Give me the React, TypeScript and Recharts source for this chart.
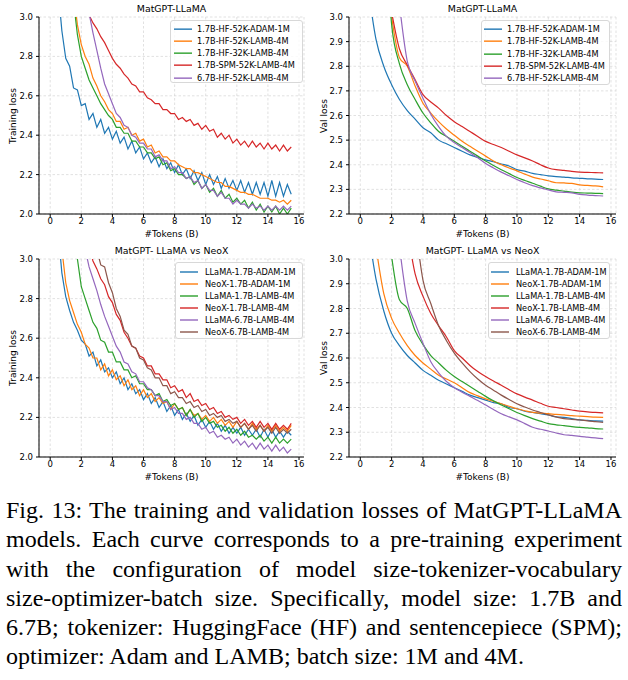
import { CartesianGrid, Line, LineChart, XAxis, YAxis } from "recharts"

// x positions of the logged points (billions of tokens)
const TRAIN_X = Array.from({ length: 61 }, (_, i) => 0.5 + i * 0.25)
const VAL_X = Array.from({ length: 31 }, (_, i) => 0.5 + i * 0.5)

const X_TICKS = [0, 2, 4, 6, 8, 10, 12, 14, 16]
const TRAIN_Y_TICKS = [2.0, 2.2, 2.4, 2.6, 2.8, 3.0]
const VAL_Y_TICKS = [2.2, 2.3, 2.4, 2.5, 2.6, 2.7, 2.8, 2.9, 3.0]

const LLAMA_NAMES = [
  "1.7B-HF-52K-ADAM-1M",
  "1.7B-HF-52K-LAMB-4M",
  "1.7B-HF-32K-LAMB-4M",
  "1.7B-SPM-52K-LAMB-4M",
  "6.7B-HF-52K-LAMB-4M",
]
const NEOX_NAMES = [
  "LLaMA-1.7B-ADAM-1M",
  "NeoX-1.7B-ADAM-1M",
  "LLaMA-1.7B-LAMB-4M",
  "NeoX-1.7B-LAMB-4M",
  "LLaMA-6.7B-LAMB-4M",
  "NeoX-6.7B-LAMB-4M",
]

const COLORS = ["#1f77b4", "#ff7f0e", "#2ca02c", "#d62728", "#9467bd", "#8c564b"]

// ---- MatGPT-LLaMA, training loss ----
const tlAdam1M = [
  3.15, 2.93,
  2.79, 2.75, 2.64, 2.63,
  2.55, 2.56, 2.48, 2.51,
  2.44, 2.48, 2.41, 2.44,
  2.38, 2.42, 2.36, 2.39,
  2.33, 2.37, 2.31, 2.34,
  2.28, 2.31, 2.26, 2.29,
  2.24, 2.28, 2.23, 2.26,
  2.21, 2.25, 2.2, 2.23,
  2.18, 2.22, 2.17, 2.21,
  2.15, 2.2, 2.15, 2.19,
  2.13, 2.18, 2.13, 2.17,
  2.12, 2.17, 2.11, 2.16,
  2.1, 2.16, 2.1, 2.16,
  2.09, 2.17, 2.09, 2.16,
  2.09, 2.15, 2.1,
]
const tlHf52Lamb = [
  null, null,
  null, null, 3.12, 2.96,
  2.86, 2.8, 2.76, 2.69,
  2.65, 2.6, 2.57, 2.53,
  2.51, 2.47, 2.47, 2.43,
  2.44, 2.4, 2.41, 2.37,
  2.38, 2.34, 2.35, 2.31,
  2.32, 2.29, 2.29, 2.27,
  2.27, 2.25, 2.24, 2.23,
  2.23, 2.21, 2.21, 2.2,
  2.19, 2.18, 2.17, 2.16,
  2.16, 2.14, 2.14, 2.13,
  2.12, 2.11, 2.11, 2.1,
  2.1, 2.09, 2.08, 2.08,
  2.08, 2.07, 2.07, 2.06,
  2.07, 2.05, 2.07,
]
const tlHf32Lamb = [
  null, null,
  null, null, 3.08, 2.91,
  2.8, 2.74, 2.68, 2.64,
  2.6, 2.56, 2.53, 2.5,
  2.48, 2.44, 2.44, 2.41,
  2.41, 2.37, 2.37, 2.34,
  2.34, 2.31, 2.31, 2.28,
  2.29, 2.25, 2.26, 2.22,
  2.23, 2.2, 2.2, 2.18,
  2.19, 2.15, 2.17, 2.13,
  2.15, 2.11, 2.13, 2.09,
  2.12, 2.08, 2.1, 2.06,
  2.08, 2.05, 2.07, 2.03,
  2.06, 2.02, 2.05, 2.01,
  2.04, 2.01, 2.04, 2.0,
  2.03, 2.0, 2.03,
]
const tlSpm52Lamb = [
  null, null,
  null, null, null, null,
  null, null, 3.01, 2.97,
  2.94, 2.9, 2.87, 2.83,
  2.79, 2.76, 2.74, 2.71,
  2.69, 2.66, 2.65, 2.62,
  2.62, 2.59, 2.58, 2.56,
  2.56, 2.53, 2.53, 2.51,
  2.51, 2.48, 2.49, 2.47,
  2.48, 2.45, 2.46, 2.43,
  2.45, 2.42, 2.43, 2.39,
  2.41, 2.38, 2.4, 2.36,
  2.38, 2.35, 2.37, 2.34,
  2.37, 2.34, 2.36, 2.33,
  2.36, 2.33, 2.35, 2.32,
  2.35, 2.32, 2.34,
]
const tl67bLamb = [
  null, null,
  null, null, null, null,
  null, null, 3.02, 2.92,
  2.83, 2.74, 2.66, 2.61,
  2.56, 2.51, 2.49, 2.45,
  2.44, 2.4, 2.39, 2.36,
  2.36, 2.33, 2.33, 2.29,
  2.3, 2.27, 2.27, 2.23,
  2.24, 2.21, 2.21, 2.18,
  2.19, 2.16, 2.17, 2.13,
  2.15, 2.12, 2.12, 2.09,
  2.11, 2.08, 2.08, 2.05,
  2.07, 2.05, 2.05, 2.03,
  2.05, 2.03, 2.04, 2.02,
  2.04, 2.02, 2.04, 2.02,
  2.04, 2.02, 2.04,
]

// ---- MatGPT-LLaMA, validation loss ----
const vlAdam1M = [
  3.12,
  2.91, 2.8, 2.725, 2.665, 2.62, 2.585, 2.55, 2.53, 2.5, 2.485,
  2.47, 2.455, 2.44, 2.43, 2.42, 2.412, 2.403, 2.395, 2.38, 2.374,
  2.365, 2.36, 2.355, 2.352, 2.35, 2.347, 2.345, 2.343, 2.342, 2.34,
]
const vlHf52Lamb = [
  null,
  null, null, 3.0, 2.835, 2.8, 2.72, 2.65, 2.61, 2.575, 2.545,
  2.52, 2.495, 2.475, 2.455, 2.435, 2.415, 2.4, 2.387, 2.375, 2.362,
  2.35, 2.342, 2.335, 2.327, 2.326, 2.324, 2.318, 2.316, 2.314, 2.31,
]
const vlHf32Lamb = [
  null,
  null, 3.5, 2.97, 2.81, 2.725, 2.665, 2.61, 2.57, 2.535, 2.515,
  2.495, 2.475, 2.455, 2.435, 2.415, 2.397, 2.38, 2.364, 2.348, 2.336,
  2.325, 2.313, 2.302, 2.297, 2.293, 2.289, 2.286, 2.285, 2.284, 2.283,
]
const vlSpm52Lamb = [
  null,
  null, null, 3.02, 2.87, 2.805, 2.745, 2.685, 2.655, 2.63, 2.6,
  2.575, 2.555, 2.535, 2.515, 2.495, 2.482, 2.47, 2.455, 2.44, 2.428,
  2.415, 2.4, 2.387, 2.38, 2.377, 2.373, 2.37, 2.369, 2.368, 2.367,
]
const vl67bLamb = [
  null,
  null, null, null, 3.05, 2.82, 2.74, 2.67, 2.605, 2.555, 2.515,
  2.49, 2.47, 2.45, 2.428, 2.405, 2.387, 2.37, 2.355, 2.34, 2.327,
  2.315, 2.306, 2.298, 2.29, 2.288, 2.286, 2.28, 2.277, 2.275, 2.273,
]

// ---- LLaMA vs NeoX, training loss ----
const tnLlama17Adam = [
  3.15, 2.93,
  2.81, 2.74, 2.68, 2.64,
  2.59, 2.57, 2.51, 2.53,
  2.46, 2.49, 2.43, 2.45,
  2.4, 2.43, 2.37, 2.4,
  2.34, 2.37, 2.32, 2.34,
  2.29, 2.32, 2.27, 2.3,
  2.25, 2.28, 2.23, 2.26,
  2.21, 2.24, 2.19, 2.22,
  2.18, 2.21, 2.16, 2.19,
  2.15, 2.18, 2.14, 2.17,
  2.13, 2.16, 2.12, 2.15,
  2.12, 2.15, 2.11, 2.14,
  2.11, 2.14, 2.1, 2.14,
  2.1, 2.14, 2.1, 2.13,
  2.1, 2.13, 2.11,
]
const tnNeox17Adam = [
  null, 3.05,
  2.88, 2.79, 2.73, 2.67,
  2.63, 2.57, 2.55, 2.5,
  2.5, 2.44, 2.47, 2.41,
  2.44, 2.39, 2.41, 2.36,
  2.39, 2.34, 2.36, 2.31,
  2.34, 2.3, 2.32, 2.28,
  2.3, 2.27, 2.28, 2.24,
  2.27, 2.24, 2.25, 2.21,
  2.24, 2.21, 2.22, 2.19,
  2.21, 2.18, 2.2, 2.17,
  2.19, 2.16, 2.18, 2.15,
  2.18, 2.15, 2.17, 2.14,
  2.17, 2.14, 2.16, 2.13,
  2.16, 2.13, 2.16, 2.13,
  2.15, 2.13, 2.16,
]
const tnLlama17Lamb = [
  null, null,
  null, null, null, 3.0,
  2.86, 2.8, 2.74, 2.68,
  2.65, 2.59, 2.58, 2.53,
  2.53, 2.48, 2.48, 2.44,
  2.44, 2.4, 2.41, 2.37,
  2.37, 2.34, 2.34, 2.31,
  2.32, 2.28, 2.29, 2.26,
  2.27, 2.24, 2.25, 2.21,
  2.24, 2.2, 2.22, 2.18,
  2.2, 2.17, 2.18, 2.15,
  2.16, 2.13, 2.15, 2.12,
  2.14, 2.11, 2.13, 2.1,
  2.11, 2.09, 2.11, 2.08,
  2.1, 2.07, 2.1, 2.07,
  2.09, 2.07, 2.09,
]
const tnNeox17Lamb = [
  null, null,
  null, null, null, null,
  null, null, 3.06, 2.99,
  2.95, 2.9, 2.87, 2.81,
  2.78, 2.72, 2.69, 2.63,
  2.6, 2.56, 2.55, 2.51,
  2.5, 2.46, 2.46, 2.42,
  2.42, 2.39, 2.39, 2.35,
  2.36, 2.33, 2.34, 2.3,
  2.32, 2.28, 2.29, 2.26,
  2.27, 2.24, 2.25, 2.22,
  2.23, 2.2, 2.21, 2.19,
  2.2, 2.17, 2.19, 2.16,
  2.18, 2.15, 2.18, 2.15,
  2.17, 2.14, 2.17, 2.14,
  2.16, 2.14, 2.17,
]
const tnLlama67Lamb = [
  null, null,
  null, null, null, null,
  null, 3.05, 2.96, 2.9,
  2.84, 2.77, 2.71, 2.66,
  2.61, 2.56, 2.53, 2.48,
  2.47, 2.43, 2.42, 2.38,
  2.38, 2.35, 2.34, 2.31,
  2.31, 2.28, 2.28, 2.24,
  2.25, 2.22, 2.22, 2.19,
  2.2, 2.17, 2.17, 2.14,
  2.15, 2.12, 2.13, 2.1,
  2.11, 2.09, 2.1, 2.07,
  2.09, 2.06, 2.08, 2.05,
  2.07, 2.04, 2.07, 2.04,
  2.06, 2.03, 2.06, 2.03,
  2.05, 2.02, 2.04,
]
const tnNeox67Lamb = [
  null, null,
  null, null, null, null,
  null, null, null, null,
  3.05, 2.97, 2.96, 2.88,
  2.83, 2.75, 2.71, 2.64,
  2.62, 2.56, 2.55, 2.5,
  2.49, 2.45, 2.44, 2.4,
  2.4, 2.36, 2.36, 2.32,
  2.33, 2.3, 2.3, 2.27,
  2.28, 2.25, 2.26, 2.23,
  2.24, 2.21, 2.22, 2.2,
  2.21, 2.18, 2.19, 2.17,
  2.18, 2.15, 2.17, 2.14,
  2.16, 2.13, 2.16, 2.13,
  2.15, 2.12, 2.15, 2.12,
  2.14, 2.12, 2.14,
]

// ---- LLaMA vs NeoX, validation loss ----
const vnLlama17Adam = [
  3.12,
  2.92, 2.79, 2.7, 2.65, 2.61, 2.58, 2.55, 2.53, 2.51, 2.495,
  2.48, 2.465, 2.45, 2.44, 2.43, 2.42, 2.415, 2.4, 2.395, 2.385,
  2.38, 2.375, 2.37, 2.362, 2.36, 2.355, 2.35, 2.348, 2.346, 2.345,
]
const vnNeox17Adam = [
  null,
  3.05, 2.86, 2.76, 2.7, 2.65, 2.61, 2.58, 2.555, 2.53, 2.515,
  2.5, 2.48, 2.46, 2.447, 2.435, 2.425, 2.415, 2.405, 2.395, 2.387,
  2.38, 2.377, 2.375, 2.372, 2.37, 2.367, 2.365, 2.363, 2.361, 2.36,
]
const vnLlama17Lamb = [
  null,
  null, null, 3.01, 2.835, 2.8, 2.71, 2.655, 2.61, 2.58, 2.55,
  2.525, 2.505, 2.485, 2.465, 2.445, 2.427, 2.41, 2.395, 2.38, 2.367,
  2.355, 2.345, 2.335, 2.33, 2.327, 2.323, 2.32, 2.318, 2.315, 2.313,
]
const vnNeox17Lamb = [
  null,
  null, null, null, null, 3.12, 2.94, 2.85, 2.78, 2.73, 2.685,
  2.63, 2.6, 2.57, 2.545, 2.525, 2.507, 2.49, 2.472, 2.455, 2.442,
  2.43, 2.417, 2.405, 2.4, 2.395, 2.39, 2.385, 2.382, 2.38, 2.378,
]
const vnLlama67Lamb = [
  null,
  null, null, null, 3.05, 2.83, 2.74, 2.66, 2.585, 2.54, 2.505,
  2.48, 2.462, 2.445, 2.428, 2.41, 2.392, 2.375, 2.362, 2.35, 2.335,
  2.32, 2.312, 2.305, 2.297, 2.29, 2.287, 2.283, 2.28, 2.277, 2.274,
]
const vnNeox67Lamb = [
  null,
  null, null, null, null, null, 3.15, 2.915, 2.82, 2.73, 2.67,
  2.62, 2.58, 2.545, 2.515, 2.49, 2.47, 2.45, 2.432, 2.415, 2.402,
  2.39, 2.38, 2.37, 2.362, 2.355, 2.352, 2.35, 2.346, 2.343, 2.34,
]

const CAPTION_LINES = [
  "Fig. 13: The training and validation losses of MatGPT-LLaMA",
  "models. Each curve corresponds to a pre-training experiment",
  "with the configuration of model size-tokenizer-vocabulary",
  "size-optimizer-batch size. Specifically, model size: 1.7B and",
  "6.7B; tokenizer: HuggingFace (HF) and sentencepiece (SPM);",
  "optimizer: Adam and LAMB; batch size: 1M and 4M.",
]

const FONT = "'DejaVu Sans', sans-serif"
const X_DOMAIN: [number, number] = [-0.72, 16.32]

type Series = (number | null)[]

function buildRows(xs: number[], series: Series[]) {
  return xs.map((x, i) => {
    const row: Record<string, number | null> = { x }
    series.forEach((s, k) => {
      row["s" + k] = s[i] ?? null
    })
    return row
  })
}

interface PanelProps {
  left: number
  top: number
  yWidth: number
  margin: { top: number; right: number; bottom: number; left: number }
  xs: number[]
  series: Series[]
  names: string[]
  yDomain: [number, number]
  yTicks: number[]
  curve: "linear" | "monotone"
  title: string
  ylabel: string
  ylabelX: number
  legend: { left: number; top: number; width: number; height: number; pad: number; sample: number; text: number; row: number }
}

const Panel = (p: PanelProps) => {
  const rows = buildRows(p.xs, p.series)
  const plotLeft = p.margin.left + p.yWidth
  const plotRight = 314 - p.margin.right
  const plotTop = p.margin.top
  const plotBottom = 240 - p.margin.bottom - 20
  const cx = (plotLeft + plotRight) / 2
  const tick = { fontSize: 8.5, fill: "#000", fontFamily: FONT }
  return (
    <div style={{ position: "absolute", left: p.left, top: p.top, width: 314, height: 240 }}>
      <LineChart width={314} height={240} data={rows} margin={p.margin}>
        <CartesianGrid stroke="#d4d4d4" strokeDasharray="2.5 2" strokeWidth={0.7} />
        <XAxis
          dataKey="x"
          type="number"
          domain={X_DOMAIN}
          ticks={X_TICKS}
          allowDataOverflow
          height={20}
          tick={tick}
          tickSize={3}
          tickMargin={1}
          stroke="#000"
          interval={0}
        />
        <XAxis
          xAxisId="top"
          orientation="top"
          type="number"
          domain={X_DOMAIN}
          allowDataOverflow
          height={0}
          tick={false}
          tickLine={false}
          stroke="#000"
        />
        <YAxis
          type="number"
          domain={p.yDomain}
          ticks={p.yTicks}
          allowDataOverflow
          width={p.yWidth}
          tick={tick}
          tickSize={3}
          tickMargin={3}
          tickFormatter={(v: number) => v.toFixed(1)}
          stroke="#000"
          interval={0}
        />
        <YAxis
          yAxisId="right"
          orientation="right"
          type="number"
          domain={p.yDomain}
          allowDataOverflow
          width={0}
          tick={false}
          tickLine={false}
          stroke="#000"
        />
        {p.series.map((_, k) => (
          <Line
            key={k}
            dataKey={"s" + k}
            type={p.curve}
            stroke={COLORS[k]}
            strokeWidth={1.2}
            dot={false}
            isAnimationActive={false}
          />
        ))}
      </LineChart>
      <div
        style={{
          position: "absolute",
          left: cx - 100,
          width: 200,
          top: plotTop - 14,
          textAlign: "center",
          fontFamily: FONT,
          fontSize: 9.4,
          lineHeight: "12px",
        }}
      >
        {p.title}
      </div>
      <div
        style={{
          position: "absolute",
          left: cx - 100,
          width: 200,
          top: plotBottom + 14,
          textAlign: "center",
          fontFamily: FONT,
          fontSize: 9,
          lineHeight: "12px",
        }}
      >
        #Tokens (B)
      </div>
      <div
        style={{
          position: "absolute",
          left: p.ylabelX - 50,
          width: 100,
          top: (plotTop + plotBottom) / 2 - 6,
          textAlign: "center",
          fontFamily: FONT,
          fontSize: 9,
          lineHeight: "12px",
          transform: "rotate(-90deg)",
        }}
      >
        {p.ylabel}
      </div>
      <div
        style={{
          position: "absolute",
          left: p.legend.left,
          top: p.legend.top,
          width: p.legend.width,
          height: p.legend.height,
          boxSizing: "border-box",
          border: "1px solid #d8d8d8",
          borderRadius: 3,
          background: "rgba(255,255,255,0.8)",
          paddingTop: p.legend.pad,
        }}
      >
        {p.names.map((n, k) => (
          <div key={n} style={{ position: "relative", height: p.legend.row }}>
            <svg
              width={18}
              height={p.legend.row}
              style={{ position: "absolute", left: p.legend.sample - 1, top: 0 }}
            >
              <line x1={0} x2={18} y1={p.legend.row / 2} y2={p.legend.row / 2} stroke={COLORS[k]} strokeWidth={1.4} />
            </svg>
            <div
              style={{
                position: "absolute",
                left: p.legend.text - 1,
                top: 0,
                fontFamily: FONT,
                fontSize: 8.2,
                lineHeight: p.legend.row + "px",
                whiteSpace: "nowrap",
              }}
            >
              {n}
            </div>
          </div>
        ))}
      </div>
    </div>
  )
}

const App = () => {
  return (
    <div style={{ position: "absolute", left: 0, top: 0, width: 628, height: 680, background: "#fff" }}>
      <Panel
        left={0}
        top={0}
        yWidth={39}
        margin={{ top: 17, right: 10, bottom: 6, left: 0 }}
        xs={TRAIN_X}
        series={[tlAdam1M, tlHf52Lamb, tlHf32Lamb, tlSpm52Lamb, tl67bLamb]}
        names={LLAMA_NAMES}
        yDomain={[2.0, 3.0]}
        yTicks={TRAIN_Y_TICKS}
        curve="linear"
        title="MatGPT-LLaMA"
        ylabel="Training loss"
        ylabelX={13}
        legend={{ left: 170, top: 20, width: 133, height: 63, pad: 1.5, sample: 4, text: 27, row: 12.3 }}
      />
      <Panel
        left={314}
        top={0}
        yWidth={35}
        margin={{ top: 17, right: 12, bottom: 6, left: 0 }}
        xs={VAL_X}
        series={[vlAdam1M, vlHf52Lamb, vlHf32Lamb, vlSpm52Lamb, vl67bLamb]}
        names={LLAMA_NAMES}
        yDomain={[2.2, 3.0]}
        yTicks={VAL_Y_TICKS}
        curve="monotone"
        title="MatGPT-LLaMA"
        ylabel="Val loss"
        ylabelX={10}
        legend={{ left: 167, top: 20, width: 129, height: 65, pad: 2, sample: 3, text: 26, row: 12.3 }}
      />
      <Panel
        left={0}
        top={240}
        yWidth={39}
        margin={{ top: 19, right: 10, bottom: 3, left: 0 }}
        xs={TRAIN_X}
        series={[tnLlama17Adam, tnNeox17Adam, tnLlama17Lamb, tnNeox17Lamb, tnLlama67Lamb, tnNeox67Lamb]}
        names={NEOX_NAMES}
        yDomain={[2.0, 3.0]}
        yTicks={TRAIN_Y_TICKS}
        curve="linear"
        title="MatGPT- LLaMA vs NeoX"
        ylabel="Training loss"
        ylabelX={13}
        legend={{ left: 175, top: 22, width: 128, height: 77, pad: 3, sample: 5, text: 30, row: 12 }}
      />
      <Panel
        left={314}
        top={240}
        yWidth={35}
        margin={{ top: 19, right: 12, bottom: 3, left: 0 }}
        xs={VAL_X}
        series={[vnLlama17Adam, vnNeox17Adam, vnLlama17Lamb, vnNeox17Lamb, vnLlama67Lamb, vnNeox67Lamb]}
        names={NEOX_NAMES}
        yDomain={[2.2, 3.0]}
        yTicks={VAL_Y_TICKS}
        curve="monotone"
        title="MatGPT- LLaMA vs NeoX"
        ylabel="Val loss"
        ylabelX={10}
        legend={{ left: 174, top: 22, width: 122, height: 77, pad: 3, sample: 3, text: 28, row: 12 }}
      />
      <div
        style={{
          position: "absolute",
          left: 6,
          top: 496,
          width: 616,
          fontFamily: "Liberation Serif",
          fontSize: 24,
          lineHeight: "29.3px",
          color: "#000",
        }}
      >
        {CAPTION_LINES.map((line, i) => (
          <div
            key={i}
            style={{
              textAlign: "justify",
              textAlignLast: i === CAPTION_LINES.length - 1 ? "left" : "justify",
              whiteSpace: "nowrap",
            }}
          >
            {line}
          </div>
        ))}
      </div>
    </div>
  )
}

export default App
